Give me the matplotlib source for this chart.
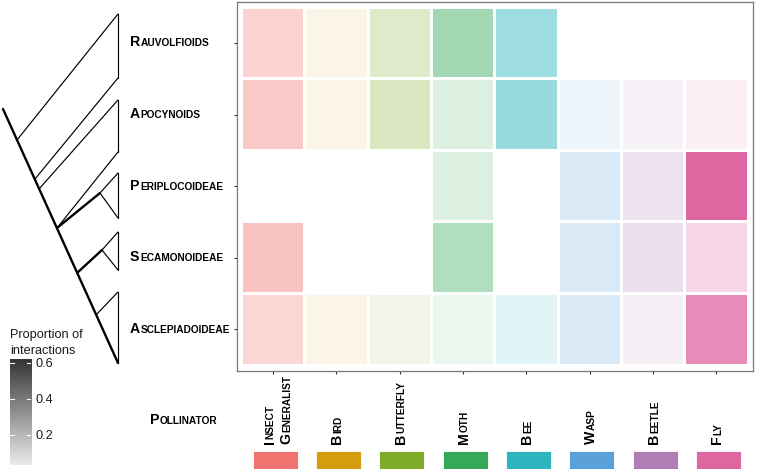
import numpy as np
import matplotlib
matplotlib.use("Agg")
import matplotlib.pyplot as plt
from matplotlib.patches import Rectangle
from matplotlib.colors import to_rgb

clades = ["Rauvolfioids", "Apocynoids", "Periplocoideae", "Secamonoideae", "Asclepiadoideae"]
pollinators = ["Insect Generalist", "Bird", "Butterfly", "Moth", "Bee", "Wasp", "Beetle", "Fly"]
pollinator_colors = ["#EF736F", "#D39D0E", "#7EAB28", "#35AA56",
                     "#2CB5BF", "#5AA1D9", "#B17FB6", "#E066A2"]

nan = np.nan
# proportion of interactions per clade (nan = no record)
rauvolfioids    = [0.18, 0.035, 0.13, 0.27, 0.27, nan, nan, nan]
apocynoids      = [0.22, 0.036, 0.16, 0.085, 0.29, 0.033, 0.034, 0.034]
periplocoideae  = [nan, nan, nan, 0.085, nan, 0.12, 0.118, 0.622]
secamonoideae   = [0.25, nan, nan, 0.22, nan, 0.12, 0.138, 0.144]
asclepiadoideae = [0.157, 0.033, 0.034, 0.033, 0.059, 0.12, 0.053, 0.465]
legend_ticks = [0.2, 0.4, 0.6]

# cladogram in pixel space of the left margin: (x0, y0, x1, y1, thick)
tree_edges = [
    (3, 109, 118, 363, True),
    (17, 140, 118, 14, False), (118, 14, 118, 78, False), (118, 78, 35, 179, False),
    (39, 189, 118, 100, False), (118, 100, 118, 152, False), (118, 152, 57, 228, False),
    (57, 228, 100, 193, True), (100, 193, 118, 173, False), (100, 193, 118, 218, False),
    (118, 173, 118, 218, False),
    (77, 273, 102, 250, True), (102, 250, 118, 232, False), (102, 250, 118, 270, False),
    (118, 232, 118, 270, False),
    (96, 315, 118, 292, False), (118, 292, 118, 363, False),
]

values = np.array([rauvolfioids, apocynoids, periplocoideae, secamonoideae, asclepiadoideae])
vmin, vmax = np.nanmin(values), np.nanmax(values)


def alpha_of(v):
    return 0.1 + 0.9 * (v - vmin) / (vmax - vmin)


def blend(color, a):
    c = np.array(to_rgb(color))
    return tuple(1 - a * (1 - c))


W, H = 757, 473
fig = plt.figure(figsize=(W / 100, H / 100), dpi=100)
fig.patch.set_facecolor("white")
plt.rcParams["font.family"] = ["Liberation Sans", "DejaVu Sans"]

# full-figure pixel axes for tree and labels
px = fig.add_axes([0, 0, 1, 1])
px.set_xlim(0, W)
px.set_ylim(H, 0)
px.axis("off")

for x0, y0, x1, y1, thick in tree_edges:
    px.plot([x0, x1], [y0, y1], color="black", lw=1.7 if thick else 0.85,
            solid_capstyle="round")

# heatmap panel
L, R, T, B = 236.5, 753, 1.7, 370.6
ax = fig.add_axes([L / W, (H - B) / H, (R - L) / W, (B - T) / H])
ax.set_xlim(0.423, 8.577)
ax.set_ylim(5.577, 0.423)
tw, th = 0.953, 0.958
for i, row in enumerate(values):
    for j, v in enumerate(row):
        if np.isnan(v):
            continue
        ax.add_patch(Rectangle((j + 1 - tw / 2, i + 1 - th / 2), tw, th,
                               facecolor=blend(pollinator_colors[j], alpha_of(v)),
                               edgecolor="none"))
ax.set_xticks(range(1, 9))
ax.set_yticks(range(1, 6))
ax.set_xticklabels([])
ax.set_yticklabels([])
ax.tick_params(length=2.4, width=0.8, color="#333333", direction="out")
for s in ax.spines.values():
    s.set_color("#7a7a7a")
    s.set_linewidth(0.9)

renderer = fig.canvas.get_renderer()


def small_caps(x, y, word, vertical=False, big=10.2, small=7.3):
    offset = 0.0
    for piece, size in ((word[0], big), (word[1:].upper(), small)):
        t = px.text(0, 0, piece, fontsize=size, fontweight="bold", color="black",
                    ha="left", va="baseline")
        w = t.get_window_extent(renderer).width
        if vertical:
            t.set_position((x, y - offset))
            t.set_rotation(90)
            t.set_rotation_mode("anchor")
        else:
            t.set_position((x + offset, y))
        offset += w + 0.6


def to_px(xd, yd):
    dx, dy = ax.transData.transform((xd, yd))
    return dx, H - dy


for i, name in enumerate(clades):
    _, yc = to_px(1, i + 1)
    small_caps(130, yc + 3.5, name)

for j, name in enumerate(pollinators):
    xc, _ = to_px(j + 1, 1)
    words = name.split()
    if len(words) == 2:
        small_caps(xc + 0.5, 444, words[0], vertical=True)
        small_caps(xc + 17.5, 444, words[1], vertical=True)
    else:
        small_caps(xc + 5, 444, name, vertical=True)

small_caps(150, 424, "Pollinator")

# pollinator colour keys
ax_bar = fig.add_axes([L / W, (H - 469) / H, (R - L) / W, 18 / H])
ax_bar.set_xlim(0.423, 8.577)
ax_bar.set_ylim(0, 1)
ax_bar.bar(np.arange(1, 9) + 0.035, 1, width=0.71, bottom=0,
           color=pollinator_colors, edgecolor="white", linewidth=0.6)
ax_bar.axis("off")

# alpha legend
px.text(10, 337.5, "Proportion of", fontsize=9.2, color="#1a1a1a", ha="left", va="baseline")
px.text(10, 353.5, "interactions", fontsize=9.2, color="#1a1a1a", ha="left", va="baseline")
ax_cb = fig.add_axes([10 / W, (H - 465) / H, 21 / W, 106 / H])
grad = np.linspace(vmin, vmax, 256)
rgb = np.array([blend("#333333", alpha_of(g)) for g in grad])[:, None, :]
ax_cb.imshow(rgb, extent=(0, 1, vmin, vmax), aspect="auto", origin="lower")
ax_cb.set_xlim(0, 1)
ax_cb.set_ylim(vmin, vmax)
ax_cb.set_xticks([])
ax_cb.yaxis.tick_right()
ax_cb.set_yticks(legend_ticks)
ax_cb.set_yticklabels([f"{t:.1f}" for t in legend_ticks], fontsize=9.2, color="#1a1a1a")
ax_cb.tick_params(length=0, pad=3.6)
for t in legend_ticks:
    ax_cb.plot([0, 0.2], [t, t], color="white", lw=0.8)
    ax_cb.plot([0.8, 1], [t, t], color="white", lw=0.8)
for s in ax_cb.spines.values():
    s.set_visible(False)

fig.savefig("out.png", dpi=100)
